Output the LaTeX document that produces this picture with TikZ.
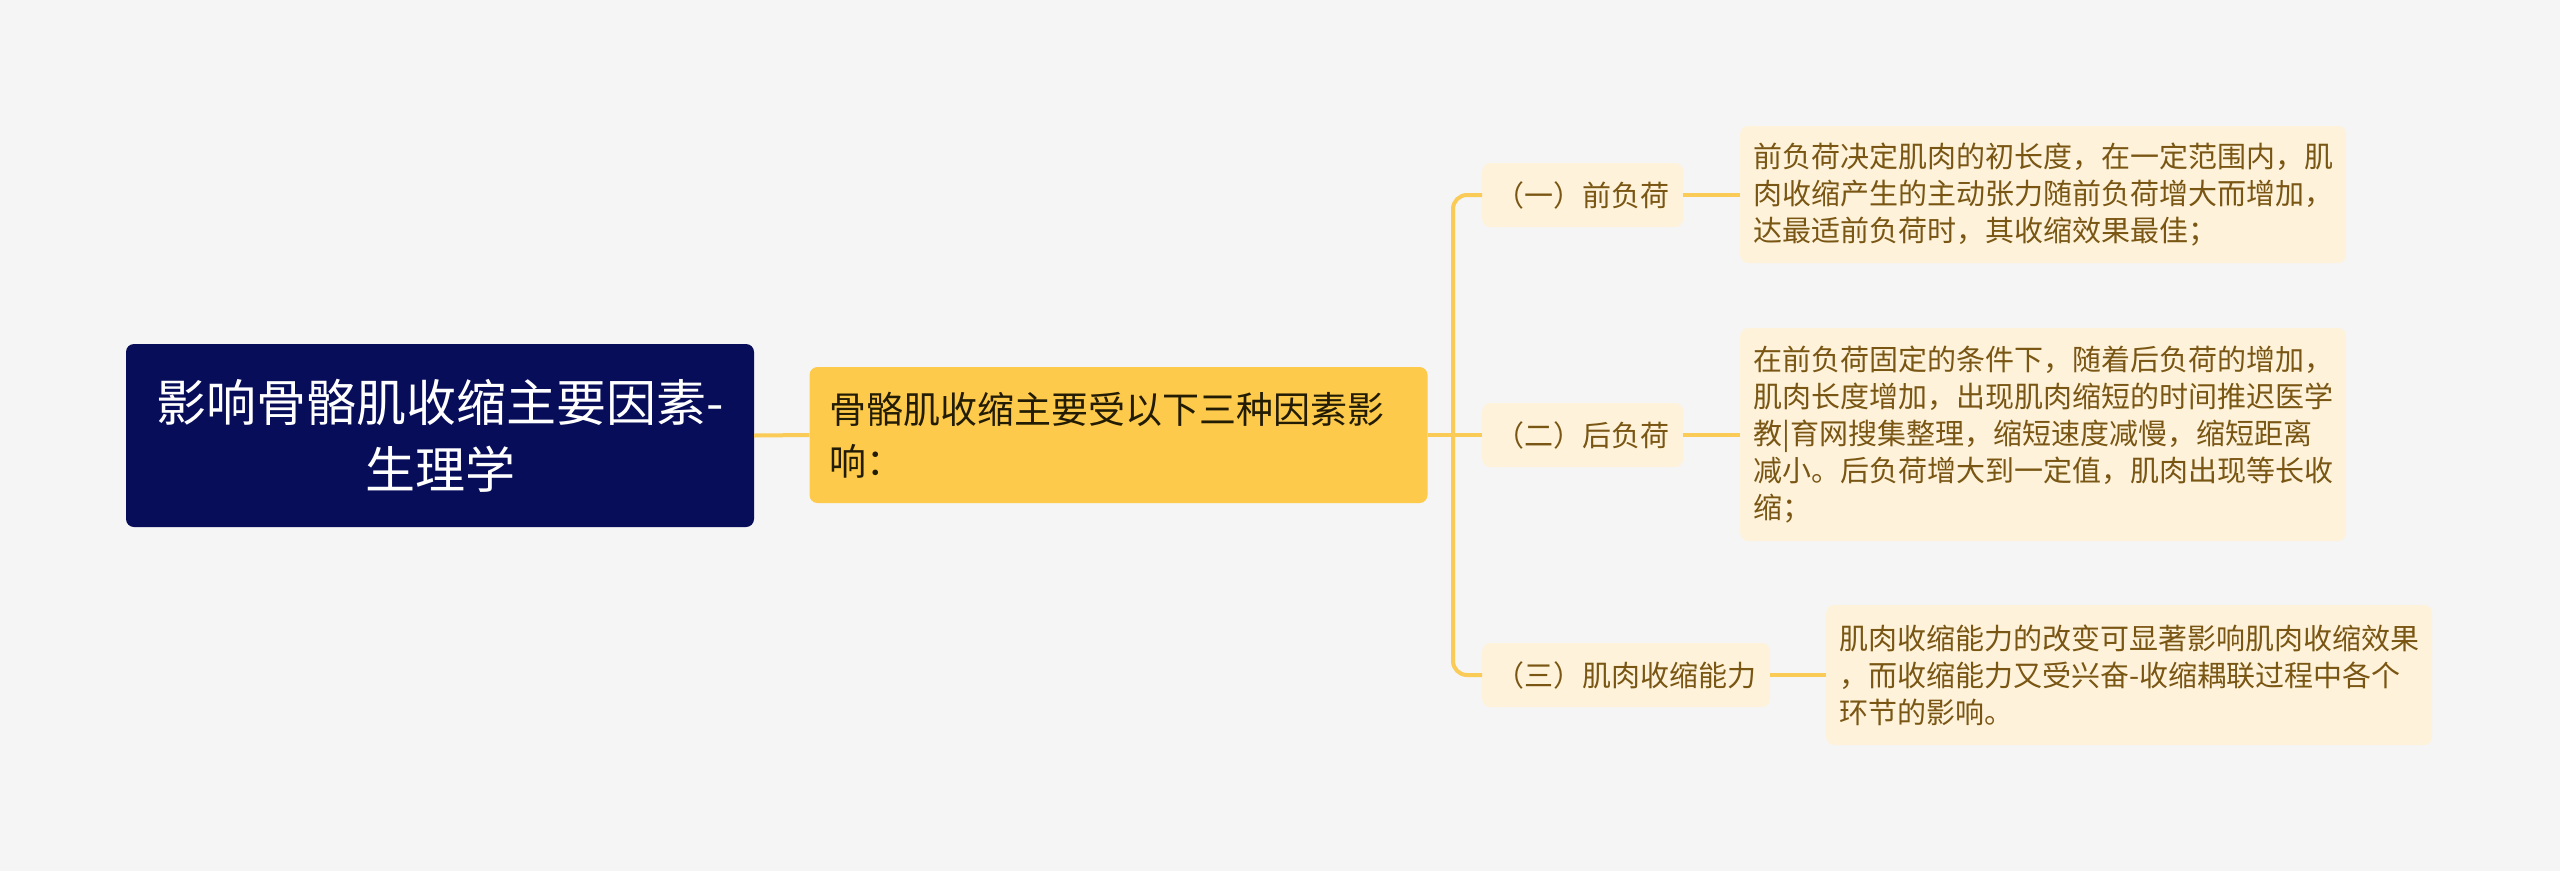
\documentclass[tikz,border=0pt]{standalone}
\usepackage{fontspec}
\setmainfont{Noto Sans CJK SC}
\definecolor{bg}{HTML}{F5F5F5}
\definecolor{rootfill}{HTML}{070D59}
\definecolor{midfill}{HTML}{FECA4B}
\definecolor{subfill}{HTML}{FEF3DA}
\definecolor{conncol}{HTML}{FBCB57}
\definecolor{subtext}{HTML}{7A5614}
\definecolor{midtext}{HTML}{231C05}
\begin{document}
\begin{tikzpicture}[x=1pt,y=-1pt,
  rootbox/.style={fill=rootfill,rounded corners=8pt,text=white,align=center,
    minimum width=628pt,minimum height=183pt,inner sep=0pt,
    font=\fontsize{50}{67}\selectfont},
  midbox/.style={fill=midfill,rounded corners=8pt,text=midtext,align=left,
    text width=578pt,inner xsep=20pt,inner ysep=0pt,minimum height=136pt,
    font=\fontsize{37}{52}\selectfont},
  branchbox/.style={fill=subfill,rounded corners=8pt,text=subtext,
    inner xsep=13.5pt,inner ysep=0pt,minimum height=64pt,anchor=west,
    font=\fontsize{29}{37}\selectfont},
  leafbox/.style={fill=subfill,rounded corners=8pt,text=subtext,align=left,
    text width=580pt,inner xsep=13pt,inner ysep=0pt,anchor=west,
    font=\fontsize{29}{37}\selectfont},
  conn/.style={draw=conncol,line width=4pt}
]
\fill[bg] (0,0) rectangle (2560,871);
\useasboundingbox (0,0) rectangle (2560,871);

\node[rootbox] (root) at (440,435.5) {影响骨骼肌收缩主要因素-\\生理学};
\node[midbox] (mid) at (1118.5,435) {骨骼肌收缩主要受以下三种因素影\\响：};

\node[branchbox] (b1) at (1482,195) {（一）前负荷};
\node[branchbox] (b2) at (1482,435) {（二）后负荷};
\node[branchbox] (b3) at (1482,675) {（三）肌肉收缩能力};

\node[leafbox,minimum height=137pt] (l1) at (1740,194.5) {前负荷决定肌肉的初长度，在一定范围内，肌\\肉收缩产生的主动张力随前负荷增大而增加，\\达最适前负荷时，其收缩效果最佳；};
\node[leafbox,minimum height=213pt] (l2) at (1740,434.5) {在前负荷固定的条件下，随着后负荷的增加，\\肌肉长度增加，出现肌肉缩短的时间推迟医学\\教|育网搜集整理，缩短速度减慢，缩短距离\\减小。后负荷增大到一定值，肌肉出现等长收\\缩；};
\node[leafbox,minimum height=140pt] (l3) at (1826,675) {肌肉收缩能力的改变可显著影响肌肉收缩效果\\，而收缩能力又受兴奋-收缩耦联过程中各个\\环节的影响。};

\coordinate (trunk) at (1453,435);
\draw[conn] (root.east) -- (mid.west);
\draw[conn] (mid.east) -- (b2.west);
\draw[conn,rounded corners=14pt] (b1.west) -| (trunk) |- (b3.west);
\draw[conn] (b1.east) -- (b1.east -| l1.west);
\draw[conn] (b2.east) -- (b2.east -| l2.west);
\draw[conn] (b3.east) -- (b3.east -| l3.west);
\end{tikzpicture}
\end{document}
